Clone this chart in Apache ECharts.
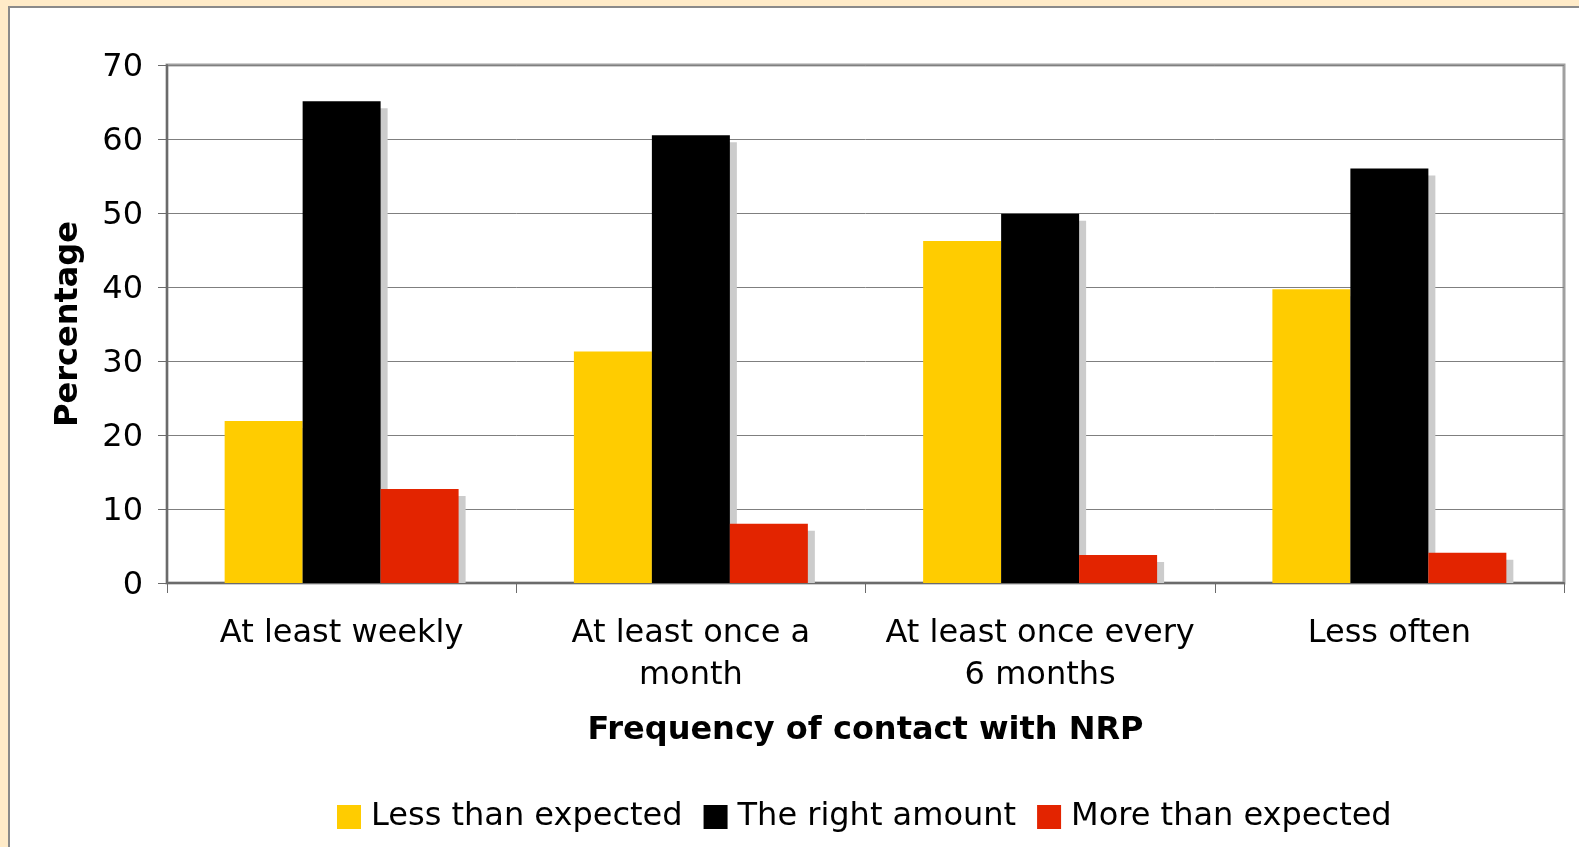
<!DOCTYPE html>
<html>
<head>
<meta charset="utf-8">
<script src="https://cdn.jsdelivr.net/npm/echarts@6/dist/echarts.min.js"></script>
<style>
html, body { margin:0; padding:0; width:1579px; height:847px; overflow:hidden; background:#FFEBC8; }
#panel { position:absolute; left:8px; top:6px; width:1571px; height:841px; background:#ffffff; border-left:2px solid #8a8a8a; border-top:2px solid #8a8a8a; box-sizing:border-box; }
#chart { position:absolute; left:0; top:0; width:1579px; height:847px; }
</style>
</head>
<body>
<div id="panel"></div>
<div id="chart"></div>
<script>
var categories = ["At least weekly", "At least once a\nmonth", "At least once every\n6 months", "Less often"];
var seriesNames = ["Less than expected", "The right amount", "More than expected"];
var lessThanExpected = [21.9, 31.3, 46.2, 39.7];
var rightAmount = [65.1, 60.5, 49.9, 56.0];
var moreThanExpected = [12.7, 8.0, 3.8, 4.1];
var yTicks = [0, 10, 20, 30, 40, 50, 60, 70];

var colors = ["#FFCC00", "#000000", "#E32400"];
var allValues = [lessThanExpected, rightAmount, moreThanExpected];
var BAR_FRAC = 0.2233;
var SHADOW = 7;
var FONT = "'DejaVu Sans', Verdana, sans-serif";

var shadowData = [];
allValues.forEach(function (arr, s) {
  arr.forEach(function (v, c) { shadowData.push([c, v, s]); });
});

var chart = echarts.init(document.getElementById('chart'), null, { renderer: 'canvas' });

var series = [{
  type: 'custom',
  name: 'shadow',
  z: 1,
  silent: true,
  data: shadowData,
  encode: { x: 0, y: 1 },
  renderItem: function (params, api) {
    var c = api.value(0), v = api.value(1), s = api.value(2);
    var base = api.coord([c, 0]);
    var top = api.coord([c, v]);
    var band = api.size([1, 0])[0];
    var w = band * BAR_FRAC;
    var x = base[0] + (s - 1) * w - w / 2 + SHADOW;
    var y = top[1] + SHADOW;
    var h = Math.max(0, base[1] - y);
    return { type: 'rect', shape: { x: x, y: y, width: w, height: h }, style: { fill: '#cccccc' } };
  }
}];
allValues.forEach(function (arr, s) {
  series.push({
    type: 'bar',
    name: seriesNames[s],
    z: 3,
    data: arr,
    barWidth: (BAR_FRAC * 100) + '%',
    barGap: '0%',
    itemStyle: { color: colors[s] },
    emphasis: { disabled: true }
  });
});

chart.setOption({
  animation: false,
  backgroundColor: 'transparent',
  textStyle: { fontFamily: FONT },
  grid: { left: 167, top: 65, right: 15, bottom: 264, show: true, borderColor: '#a0a0a0', borderWidth: 3, backgroundColor: 'transparent' },
  legend: {
    data: seriesNames,
    left: 332, top: 796,
    itemWidth: 24, itemHeight: 24, itemGap: 21,
    icon: 'rect',
    textStyle: { fontFamily: FONT, fontSize: 32, color: '#000', padding: [0, 0, 0, 5] }
  },
  xAxis: {
    type: 'category',
    data: categories,
    name: 'Frequency of contact with NRP',
    nameLocation: 'middle',
    nameGap: 132,
    nameTextStyle: { fontFamily: FONT, fontSize: 32, fontWeight: 'bold', color: '#000' },
    axisLine: { lineStyle: { color: '#6b6b6b', width: 2 } },
    axisTick: { show: true, length: 10, lineStyle: { color: '#6b6b6b', width: 1 } },
    axisLabel: { fontFamily: FONT, fontSize: 32, color: '#000', margin: 30, lineHeight: 42, interval: 0 }
  },
  yAxis: {
    type: 'value',
    min: yTicks[0], max: yTicks[yTicks.length - 1], interval: yTicks[1] - yTicks[0],
    name: 'Percentage',
    nameLocation: 'middle',
    nameGap: 82,
    nameRotate: 90,
    nameTextStyle: { fontFamily: FONT, fontSize: 32, fontWeight: 'bold', color: '#000' },
    axisLine: { show: true, lineStyle: { color: '#6b6b6b', width: 2 } },
    axisTick: { show: true, length: 9, lineStyle: { color: '#6b6b6b', width: 1 } },
    axisLabel: {
      fontFamily: FONT, fontSize: 32, color: '#000', margin: 24,
      formatter: '{v|{value}}',
      rich: { v: { fontFamily: FONT, fontSize: 32, color: '#000', padding: [5, 0, 0, 0] } }
    },
    splitLine: { show: true, lineStyle: { color: '#7f7f7f', width: 1 } }
  },
  series: series
});
</script>
</body>
</html>
